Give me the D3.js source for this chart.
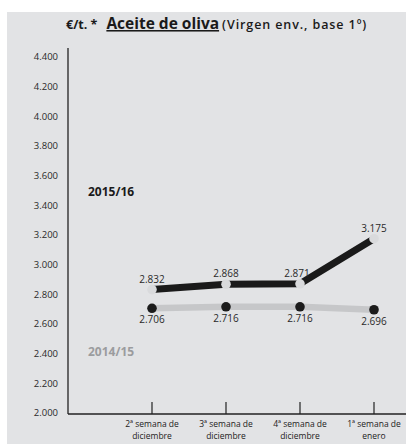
<!DOCTYPE html>
<html>
<head>
<meta charset="utf-8">
<script src="https://cdn.jsdelivr.net/npm/d3@7"></script>
<style>
  body { margin: 0; background: #fff; }
  svg { display: block; font-family: "Open Sans", sans-serif; }
</style>
</head>
<body>
<div id="chart"></div>
<script>
// data
var weeks = [["2ª semana de", "diciembre"], ["3ª semana de", "diciembre"], ["4ª semana de", "diciembre"], ["1ª semana de", "enero"]];
var season1516 = [2832, 2868, 2871, 3175];
var season1415 = [2706, 2716, 2716, 2696];
var yTicks = [2000, 2200, 2400, 2600, 2800, 3000, 3200, 3400, 3600, 3800, 4000, 4200, 4400];

var W = 413, H = 444;
var fmt = function(v) { return d3.format(",")(v).replace(",", "."); };

var svg = d3.select("#chart").append("svg")
  .attr("width", W)
  .attr("height", H);

// panel background
svg.append("rect")
  .attr("x", 7).attr("y", 12)
  .attr("width", 399).attr("height", H - 12)
  .attr("fill", "#e2e3e5");

// title
var title = svg.append("text")
  .attr("x", 66).attr("y", 29)
  .attr("fill", "#1a1a1a")
  .style("font-weight", "bold");
title.append("tspan").style("font-size", "12.5px").text("€/t. *");
title.append("tspan").attr("dx", 9).style("font-size", "15.5px")
  .style("text-decoration", "underline").text("Aceite de oliva");
title.append("tspan").attr("dx", 3).style("font-size", "12.5px")
  .style("letter-spacing", "0.9px")
  .style("font-weight", 600).text("(Virgen env., base 1º)");

var x0 = 68, xEnd = 406, yBase = 414;

var y = d3.scaleLinear().domain([2000, 4400]).range([413, 57]);
var x = d3.scalePoint().domain(d3.range(weeks.length)).range([152, 374]);

// y axis labels (no tick marks)
svg.append("g").selectAll("text")
  .data(yTicks).enter().append("text")
  .attr("x", 58)
  .attr("y", function(d) { return y(d); })
  .attr("dy", "0.35em")
  .attr("text-anchor", "end")
  .style("font-size", "9.5px")
  .attr("fill", "#2a2a2a")
  .text(fmt);

// axis lines
svg.append("line")
  .attr("x1", x0).attr("x2", x0)
  .attr("y1", 48).attr("y2", yBase)
  .attr("stroke", "#222").attr("stroke-width", 1.3);
svg.append("line")
  .attr("x1", x0).attr("x2", xEnd)
  .attr("y1", yBase).attr("y2", yBase)
  .attr("stroke", "#222").attr("stroke-width", 1.3);

// x ticks pointing up
var xg = svg.append("g").selectAll("g")
  .data(weeks).enter().append("g")
  .attr("transform", function(d, i) { return "translate(" + x(i) + "," + yBase + ")"; });
xg.append("line")
  .attr("y1", 0).attr("y2", -12)
  .attr("stroke", "#222").attr("stroke-width", 1.2);
xg.append("text")
  .attr("text-anchor", "middle")
  .style("font-size", "8.5px")
  .attr("fill", "#222")
  .selectAll("tspan")
  .data(function(d) { return d; }).enter().append("tspan")
  .attr("x", 0)
  .attr("y", function(d, i) { return 12.5 + i * 12; })
  .text(function(d) { return d; });

var line = d3.line()
  .x(function(d, i) { return x(i); })
  .y(function(d) { return y(d); });

// 2014/15: grey line, black dots
svg.append("path")
  .datum(season1415)
  .attr("d", line)
  .attr("fill", "none")
  .attr("stroke", "#c6c7c9")
  .attr("stroke-width", 6.5);
svg.append("g").selectAll("circle")
  .data(season1415).enter().append("circle")
  .attr("cx", function(d, i) { return x(i); })
  .attr("cy", function(d) { return y(d); })
  .attr("r", 4.8)
  .attr("fill", "#1c1c1c");
svg.append("g").selectAll("text")
  .data(season1415).enter().append("text")
  .attr("x", function(d, i) { return x(i); })
  .attr("y", function(d) { return y(d) + 15; })
  .attr("text-anchor", "middle")
  .style("font-size", "10px")
  .attr("fill", "#2a2a2a")
  .text(fmt);

// 2015/16: black line, light dots
svg.append("path")
  .datum(season1516)
  .attr("d", line)
  .attr("fill", "none")
  .attr("stroke", "#1a1a1a")
  .attr("stroke-width", 7);
svg.append("g").selectAll("circle")
  .data(season1516).enter().append("circle")
  .attr("cx", function(d, i) { return x(i); })
  .attr("cy", function(d) { return y(d); })
  .attr("r", 4.8)
  .attr("fill", "#d9dadc");
svg.append("g").selectAll("text")
  .data(season1516).enter().append("text")
  .attr("x", function(d, i) { return x(i) - (i == 2 ? 3 : 0); })
  .attr("y", function(d) { return y(d) - 7; })
  .attr("text-anchor", "middle")
  .style("font-size", "10px")
  .attr("fill", "#2a2a2a")
  .text(fmt);

// season labels
svg.append("text")
  .attr("x", 88).attr("y", 196)
  .style("font-size", "12px").style("font-weight", "bold")
  .attr("fill", "#1a1a1a")
  .text("2015/16");
svg.append("text")
  .attr("x", 88).attr("y", 356)
  .style("font-size", "12px").style("font-weight", "bold")
  .attr("fill", "#9b9c9e")
  .text("2014/15");
</script>
</body>
</html>
